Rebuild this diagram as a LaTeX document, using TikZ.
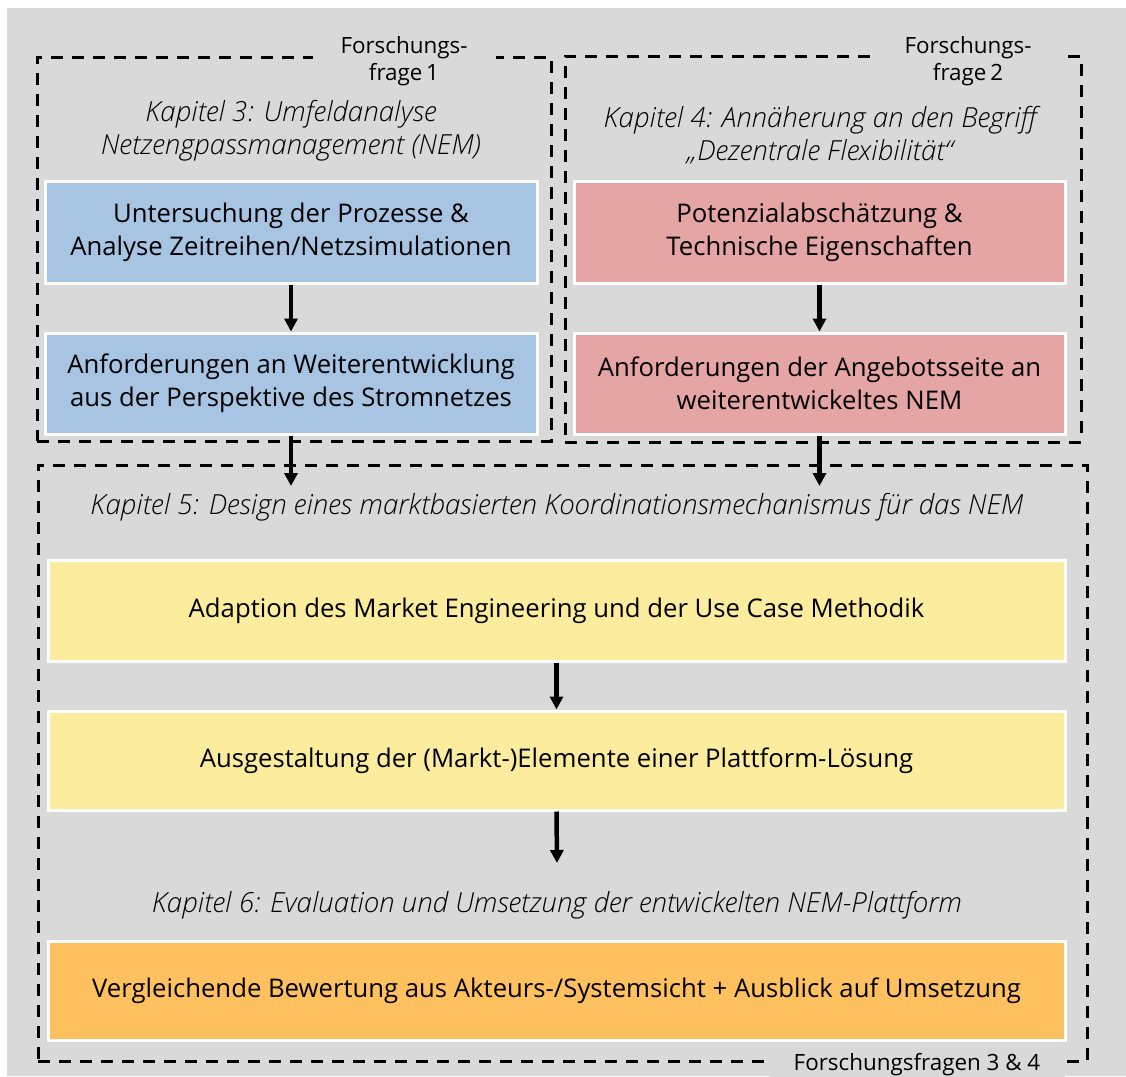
\documentclass[tikz,border=0pt]{standalone}
\usepackage{fontspec}
\setmainfont{Open Sans}
\IfFontExistsTF{Open Sans Light}
  {\newfontfamily\titlefont{Open Sans Light}[ItalicFont={Open Sans Light Italic}]}
  {\newfontfamily\titlefont{Open Sans}}
\usetikzlibrary{arrows.meta}
\definecolor{bggray}{RGB}{217,217,217}
\definecolor{boxblue}{RGB}{167,196,226}
\definecolor{boxred}{RGB}{230,165,165}
\definecolor{boxyellow}{RGB}{252,236,157}
\definecolor{boxorange}{RGB}{255,192,96}
\tikzset{
  frame/.style={draw=black, dash pattern=on 12pt off 9pt, line width=3pt, rectangle, inner sep=0pt},
  stepbox/.style={rectangle, draw=white, line width=3pt, align=center, font=\fontsize{25.7}{33}\selectfont, inner sep=0pt},
  chapter/.style={align=center, font=\titlefont\fontsize{27.7}{33}\selectfont\itshape, text=black},
  rqlabel/.style={fill=bggray, align=center, font=\fontsize{22.4}{27}\selectfont, inner ysep=3pt, inner xsep=28pt},
  arr/.style={line width=4.5pt, -{Triangle[length=13pt,width=13pt]}}
}
\begin{document}
\begin{tikzpicture}[x=1pt,y=-1pt]
\useasboundingbox (0,0) rectangle (1126,1076);
\fill[white] (0,0) rectangle (1126,1076);
\fill[bggray] (7,8) rectangle (1126,1076);

% dashed frames of the three research parts
\node[frame, minimum width=514pt, minimum height=384pt] (f1) at (294,249) {};
\node[frame, minimum width=516pt, minimum height=386pt] (f2) at (823,249) {};
\node[frame, minimum width=1049pt, minimum height=596pt] (f3) at (562.5,763) {};

% research question labels on the frame borders
\node[rqlabel] (q1) at (404,61) {Forschungs-\\frage\,1};
\node[rqlabel] (q2) at (968,61) {Forschungs-\\frage\,2};
\node[rqlabel, inner xsep=25pt] (q3) at (917,1065) {Forschungsfragen 3 \& 4};

% chapter titles
\node[chapter] (k3) at (291,131) {Kapitel 3: Umfeldanalyse\\Netzengpassmanagement (NEM)};
\node[chapter] (k4) at (820,135) {Kapitel 4: Annäherung an den Begriff\\„Dezentrale Flexibilität“};
\node[chapter] (k5) at (557,507) {Kapitel 5: Design eines marktbasierten Koordinationsmechanismus für das NEM};
\node[chapter] (k6) at (557,905) {Kapitel 6: Evaluation und Umsetzung der entwickelten NEM-Plattform};

% work steps
\node[stepbox, fill=boxblue, minimum width=492pt, minimum height=102pt] (b1) at (291,232)
  {Untersuchung der Prozesse \&\\Analyse Zeitreihen/Netzsimulationen};
\node[stepbox, fill=boxblue, minimum width=492pt, minimum height=101pt] (b2) at (291,383.5)
  {Anforderungen an Weiterentwicklung\\aus der Perspektive des Stromnetzes};
\node[stepbox, fill=boxred, minimum width=491pt, minimum height=102pt] (r1) at (819.5,232)
  {Potenzialabschätzung \&\\Technische Eigenschaften};
\node[stepbox, fill=boxred, minimum width=491pt, minimum height=101pt] (r2) at (819.5,383.5)
  {Anforderungen der Angebotsseite an\\weiterentwickeltes NEM};
\node[stepbox, fill=boxyellow, minimum width=1017pt, minimum height=101pt] (y1) at (556.5,610.5)
  {Adaption des Market Engineering und der Use Case Methodik};
\node[stepbox, fill=boxyellow, minimum width=1017pt, minimum height=99pt] (y2) at (556.5,760.5)
  {Ausgestaltung der (Markt-)Elemente einer Plattform-Lösung};
\node[stepbox, fill=boxorange, minimum width=1017pt, minimum height=99pt] (o1) at (556.5,990.5)
  {Vergleichende Bewertung aus Akteurs-/Systemsicht + Ausblick auf Umsetzung};

% arrow end points inside the lower frame
\coordinate (e1) at (291,486);
\coordinate (e2) at (819.5,486);
\coordinate (e3) at (557,863);

% connectors
\draw[arr] (b1) -- (b2);
\draw[arr] (r1) -- (r2);
\draw[arr] (b2.south) -- (e1);
\draw[arr] (r2.south) -- (e2);
\draw[arr] (y1) -- (y2);
\draw[arr] (y2.south) -- (e3);
\end{tikzpicture}
\end{document}
